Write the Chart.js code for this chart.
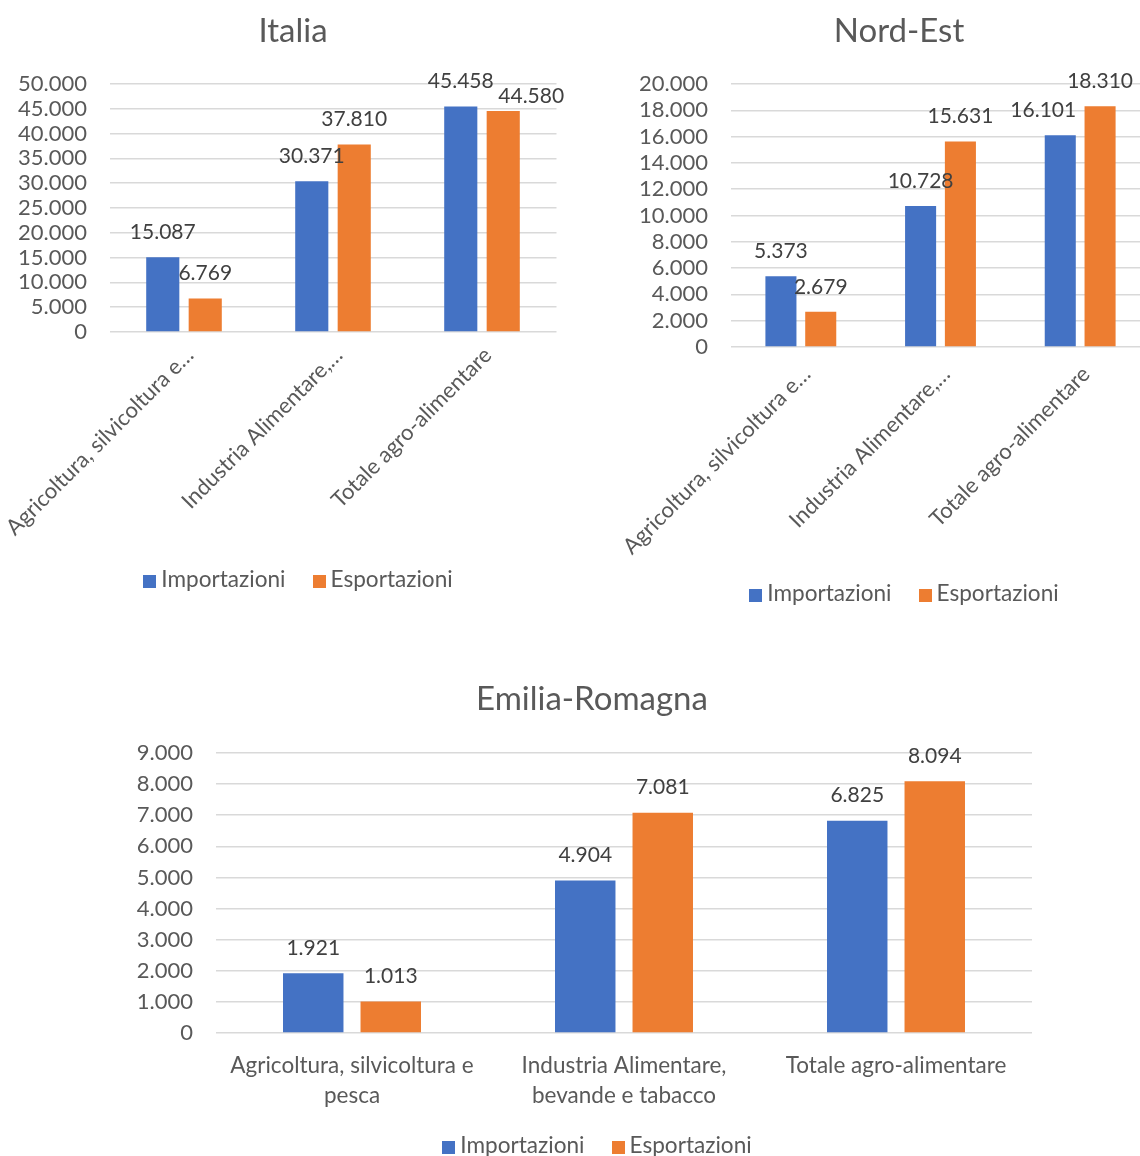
<!DOCTYPE html>
<html lang="it">
<head>
<meta charset="utf-8">
<title>Commercio agro-alimentare</title>
<script src="https://cdn.jsdelivr.net/npm/chart.js@4.4.1/dist/chart.umd.min.js"></script>
<style>
  html, body { margin: 0; padding: 0; background: #ffffff; }
  body { width: 1140px; height: 1156px; overflow: hidden; position: relative; }
  .panel { position: absolute; }
</style>
</head>
<body>
<div class="panel" id="p-italia" style="left:0px; top:0px; width:586px; height:601px;"><canvas id="c-italia"></canvas></div>
<div class="panel" id="p-nordest" style="left:600px; top:0px; width:598px; height:615px;"><canvas id="c-nordest"></canvas></div>
<div class="panel" id="p-emilia" style="left:100px; top:668px; width:984px; height:499px;"><canvas id="c-emilia"></canvas></div>

<script>
// Categories and series
const categories = [
  'Agricoltura, silvicoltura e pesca',
  'Industria Alimentare, bevande e tabacco',
  'Totale agro-alimentare'
];
const seriesNames = ['Importazioni', 'Esportazioni'];

// Values (Italia)
const italiaImport = [15087, 30371, 45458];
const italiaExport = [6769, 37810, 44580];

// Values (Nord-Est)
const nordEstImport = [5373, 10728, 16101];
const nordEstExport = [2679, 15631, 18310];

// Values (Emilia-Romagna)
const emiliaImport = [1921, 4904, 6825];
const emiliaExport = [1013, 7081, 8094];

// Value axis ranges: [max, step]
const italiaAxis = [50000, 5000];
const nordEstAxis = [20000, 2000];
const emiliaAxis = [9000, 1000];

const BLUE = '#4472C4';
const ORANGE = '#ED7D31';
const FONT = 'Lato, "Open Sans", sans-serif';

// Italian thousands separator
const fmt = v => String(Math.round(v)).replace(/\B(?=(\d{3})+(?!\d))/g, '.');

// Cut a long category name at a word boundary and add an ellipsis
function shorten(text, maxChars) {
  if (text.length <= maxChars) return text;
  let out = '';
  for (const w of text.split(' ')) {
    const next = out ? out + ' ' + w : w;
    if (next.length > maxChars) break;
    out = next;
  }
  return out + '…';
}

// Break a category name into lines of limited length
function wrap(text, maxChars) {
  const lines = [];
  let cur = '';
  for (const w of text.split(' ')) {
    const next = cur ? cur + ' ' + w : w;
    if (next.length > maxChars && cur) { lines.push(cur); cur = w; }
    else cur = next;
  }
  if (cur) lines.push(cur);
  return lines;
}

// Value labels above each bar
const barValueLabels = {
  id: 'barValueLabels',
  afterDatasetsDraw(chart, args, opts) {
    const { ctx } = chart;
    ctx.save();
    ctx.font = opts.size + 'px ' + FONT;
    ctx.fillStyle = '#404040';
    ctx.textAlign = 'center';
    ctx.textBaseline = 'middle';
    chart.data.datasets.forEach((ds, di) => {
      const meta = chart.getDatasetMeta(di);
      meta.data.forEach((bar, i) => {
        const n = (opts.nudges || []).find(k => k.dataset === di && k.index === i) || { dx: 0, dy: 0 };
        ctx.fillText(fmt(ds.data[i]), bar.x + n.dx, bar.y - opts.gap + n.dy);
      });
    });
    ctx.restore();
  }
};

// Series key: square swatch followed by the series name
const seriesLegend = {
  id: 'seriesLegend',
  afterDraw(chart, args, opts) {
    const { ctx } = chart;
    ctx.save();
    ctx.font = opts.size + 'px ' + FONT;
    ctx.textBaseline = 'middle';
    ctx.textAlign = 'left';
    const items = chart.data.datasets.map(ds => ({
      text: ds.label, color: ds.backgroundColor, w: ctx.measureText(ds.label).width
    }));
    const total = items.reduce((s, it) => s + opts.box + opts.gap + it.w, 0) + opts.spacing * (items.length - 1);
    let x = chart.width / 2 + opts.dx - total / 2;
    const y = opts.y;
    items.forEach(it => {
      ctx.fillStyle = it.color;
      ctx.fillRect(Math.round(x), Math.round(y - opts.box / 2 + 1), opts.box, opts.box);
      x += opts.box + opts.gap;
      ctx.fillStyle = '#595959';
      ctx.fillText(it.text, x, y);
      x += it.w + opts.spacing;
    });
    ctx.restore();
  }
};

function makeChart(canvasId, titleText, imports, exportsData, axis, cfg) {
  const labels = categories.map(c => cfg.rotate ? shorten(c, 27) : wrap(c, 27));
  return new Chart(document.getElementById(canvasId), {
    type: 'bar',
    data: {
      labels: labels,
      datasets: [
        { label: seriesNames[0], data: imports, backgroundColor: BLUE, borderWidth: 0,
          categoryPercentage: 0.57, barPercentage: 0.78 },
        { label: seriesNames[1], data: exportsData, backgroundColor: ORANGE, borderWidth: 0,
          categoryPercentage: 0.57, barPercentage: 0.78 }
      ]
    },
    options: {
      responsive: true,
      maintainAspectRatio: false,
      animation: false,
      layout: { padding: { top: 0, left: 0, right: 0, bottom: cfg.legendSpace } },
      scales: {
        x: {
          grid: { display: false, drawTicks: false, tickLength: 0 },
          border: { display: false },
          ticks: {
            color: '#595959',
            font: { family: FONT, size: cfg.xFont, lineHeight: 30 / cfg.xFont },
            minRotation: cfg.rotate ? 45 : 0,
            maxRotation: cfg.rotate ? 45 : 0,
            autoSkip: false,
            padding: cfg.xPad,
            labelOffset: cfg.xShift
          },
          afterFit(s) { s.paddingLeft = 0; s.paddingRight = 0; s.height = cfg.xHeight; }
        },
        y: {
          min: 0,
          max: axis[0],
          grid: { color: '#d9d9d9', lineWidth: 1.5, drawTicks: false },
          border: { display: false },
          ticks: {
            stepSize: axis[1],
            autoSkip: false,
            color: '#595959',
            font: { family: FONT, size: 22, lineHeight: 1 },
            padding: cfg.yPad,
            callback: v => fmt(v)
          },
          afterFit(s) { s.width = cfg.yWidth; }
        },
        yRight: {
          type: 'linear',
          position: 'right',
          display: true,
          grid: { display: false },
          border: { display: false },
          ticks: { display: false },
          afterFit(s) { s.width = cfg.rightWidth; }
        }
      },
      plugins: {
        title: {
          display: true,
          text: titleText,
          color: '#595959',
          font: { family: FONT, size: 33, weight: 'normal', lineHeight: 1.2 },
          padding: { top: 12, bottom: cfg.titleGap }
        },
        legend: { display: false },
        tooltip: { enabled: false },
        barValueLabels: { gap: 25, size: 21, nudges: cfg.nudges || [] },
        seriesLegend: { y: cfg.legendY, dx: 5, box: 13, gap: 5, spacing: 27, size: 22.6 }
      }
    },
    plugins: [barValueLabels, seriesLegend]
  });
}

makeChart('c-italia', 'Italia', italiaImport, italiaExport, italiaAxis, {
  rotate: true, xFont: 22, xPad: 9, xShift: 6, xHeight: 219, legendSpace: 50, legendY: 580,
  yWidth: 109.5, yPad: 22.5, rightWidth: 29.5, titleGap: 32.4,
  nudges: [{ dataset: 1, index: 2, dx: 28, dy: 10 }]
});

makeChart('c-nordest', 'Nord-Est', nordEstImport, nordEstExport, nordEstAxis, {
  rotate: true, xFont: 22, xPad: 13, xShift: 6, xHeight: 218, legendSpace: 50, legendY: 594,
  yWidth: 131, yPad: 23, rightWidth: 48, titleGap: 32.4,
  nudges: [{ dataset: 0, index: 2, dx: -17, dy: 0 }]
});

makeChart('c-emilia', 'Emilia-Romagna', emiliaImport, emiliaExport, emiliaAxis, {
  rotate: false, xFont: 22.5, xPad: 18, xShift: 0, xHeight: 94, legendSpace: 40, legendY: 478,
  yWidth: 116, yPad: 23, rightWidth: 52, titleGap: 33.4,
  nudges: []
});
</script>
</body>
</html>
